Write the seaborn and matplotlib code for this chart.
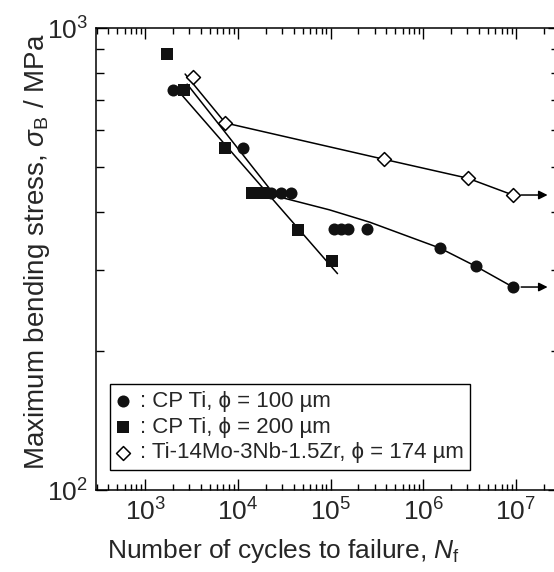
import pandas as pd
import seaborn as sns
import matplotlib.pyplot as plt
from matplotlib.ticker import NullFormatter, LogLocator

sns.set_theme(style="ticks")
plt.rcParams["font.family"] = ["Liberation Sans", "DejaVu Sans"]
plt.rcParams["mathtext.fontset"] = "custom"
plt.rcParams["mathtext.rm"] = "Liberation Sans"
plt.rcParams["mathtext.it"] = "Liberation Sans:italic"
plt.rcParams["mathtext.bf"] = "Liberation Sans:bold"

# measured points (cycles, stress MPa)
cp100_n = [2000, 11500, 23000, 29500, 37800, 110000, 131000, 153000, 245000, 1.5e6, 3.7e6, 9.3e6]
cp100_s = [734, 550, 439, 439, 439, 367, 367, 367, 367, 334, 305, 275]
cp200_n = [1730, 2640, 7330, 14350, 18900, 45100, 105000]
cp200_s = [879, 734, 550, 439, 439, 365, 313]
alloy_n = [3300, 7330, 374000, 3.03e6, 9.29e6]
alloy_s = [783, 623, 520, 473, 435]

# fitted curves drawn in the figure
fit100_n = [2840, 25400, 97500, 264000, 714000, 1.51e6, 3.69e6, 9.28e6]
fit100_s = [756, 433, 404, 380, 353, 334, 305, 275]
fit200_n = [2330, 119000]
fit200_s = [727, 294]
fit_alloy_n = [2700, 7330, 374000, 3.03e6, 9.29e6]
fit_alloy_s = [795, 623, 520, 473, 435]

# run-out arrows
runout_start_n = [9.29e6, 9.28e6]
runout_s = [435, 275]
runout_end_n = 2.2e7

labels = [": CP Ti, \u03d5 = 100 \u00b5m",
          ": CP Ti, \u03d5 = 200 \u00b5m",
          ": Ti-14Mo-3Nb-1.5Zr, \u03d5 = 174 \u00b5m"]

fig = plt.figure(figsize=(5.54, 5.72), dpi=100)
ax = fig.add_axes([96 / 554, 1 - 490 / 572, 463 / 554, 462 / 572])

for fx, fy in [(fit100_n, fit100_s), (fit200_n, fit200_s), (fit_alloy_n, fit_alloy_s)]:
    df = pd.DataFrame({"N": fx, "S": fy})
    sns.lineplot(data=df, x="N", y="S", ax=ax, color="black", lw=1.1,
                 sort=False, estimator=None)

sns.scatterplot(x=cp100_n, y=cp100_s, ax=ax, marker="o", s=75, color="#111111",
                edgecolor="#111111", linewidth=0, label=labels[0], zorder=3)
sns.scatterplot(x=cp200_n, y=cp200_s, ax=ax, marker="s", s=85, color="#111111",
                edgecolor="#111111", linewidth=0, label=labels[1], zorder=3)
sns.scatterplot(x=alloy_n, y=alloy_s, ax=ax, marker="D", s=50, color="white",
                edgecolor="black", linewidth=1.1, label=labels[2], zorder=3)

for n0, s0 in zip(runout_start_n, runout_s):
    ax.annotate("", xy=(runout_end_n, s0), xytext=(n0, s0),
                arrowprops=dict(arrowstyle="-|>", color="black", lw=1.1,
                                mutation_scale=13, shrinkA=6, shrinkB=0))

ax.set_xscale("log")
ax.set_yscale("log")
ax.set_xlim(295, 2.92e7)
ax.set_ylim(100, 1000)

ax.yaxis.set_major_locator(LogLocator(base=10))
ax.yaxis.set_minor_formatter(NullFormatter())
ax.xaxis.set_minor_formatter(NullFormatter())
ax.tick_params(which="both", direction="in", top=True, right=True,
               color="black", width=1.0)
ax.tick_params(which="major", length=8, labelsize=19, pad=6)
ax.tick_params(axis="x", which="minor", length=4)
ax.tick_params(axis="y", which="minor", length=5.5)
for sp in ax.spines.values():
    sp.set_color("black")
    sp.set_linewidth(1.1)

ax.set_xlabel("Number of cycles to failure, $N_\\mathrm{f}$", fontsize=19)
ax.set_ylabel("Maximum bending stress, $\\sigma_\\mathrm{B}$ / MPa", fontsize=20)
ax.xaxis.set_label_coords(0.404, -0.101)
ax.yaxis.set_label_coords(-0.096, 0.515)

leg = ax.legend(loc="lower left", bbox_to_anchor=(0.03, 0.043), borderaxespad=0,
                fontsize=16, handlelength=0.6, handletextpad=0.45, labelspacing=0.22,
                frameon=True, fancybox=False, framealpha=1, edgecolor="black",
                borderpad=0.3)
leg.get_frame().set_linewidth(1.0)

fig.savefig("out.png", dpi=100, facecolor="white")
